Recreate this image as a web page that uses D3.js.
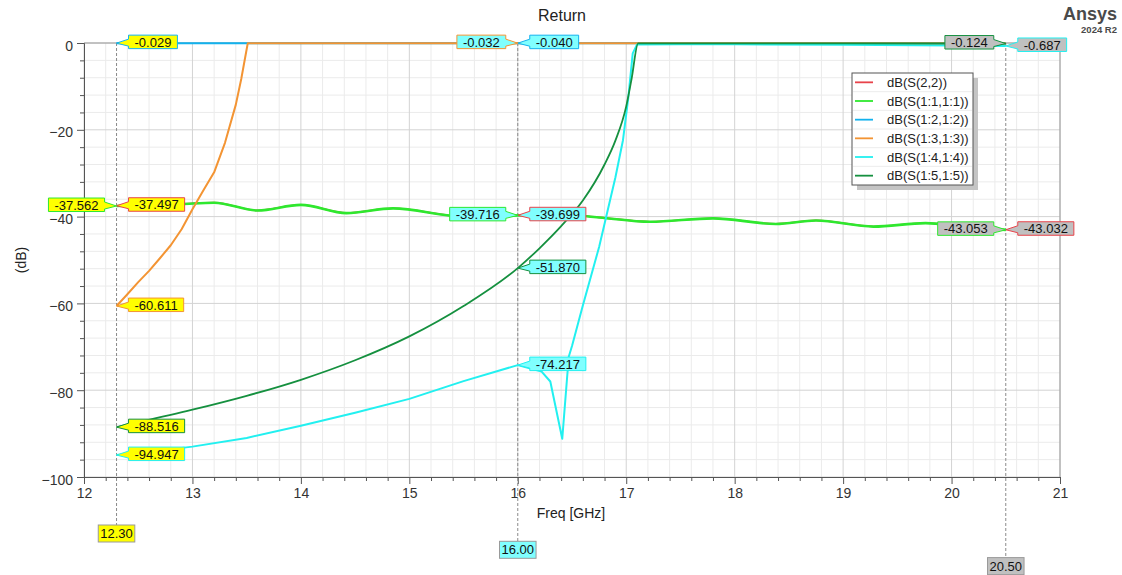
<!DOCTYPE html>
<html lang="en">
<head>
  <meta charset="UTF-8">
  <title>Return</title>
  <script src="https://d3js.org/d3.v7.min.js"></script>
  <style>
    body {
      margin: 0;
      background: #ffffff;
      font-family: Arial, "Liberation Sans", sans-serif;
    }

    svg {
      display: block;
    }

    .grid .minor {
      stroke: #ebebeb;
      stroke-width: 1px;
    }

    .grid .major {
      stroke: #d3d3d3;
      stroke-width: 1px;
    }

    .axis path,
    .axis line {
      stroke: #555555;
    }

    .axis text {
      font-size: 14px;
      fill: #333333;
      font-family: Arial, "Liberation Sans", sans-serif;
    }

    .trace {
      fill: none;
      stroke-linejoin: round;
    }

    .callout text,
    .xmark text {
      font-size: 13px;
      fill: #111111;
    }

    .legend text {
      font-size: 13px;
      fill: #222222;
    }
  </style>
</head>

<body>
  <div id="chart"></div>
  <script>
    // legend order = draw order
    const seriesNames = ["dB(S(2,2))", "dB(S(1:1,1:1))", "dB(S(1:2,1:2))",
                         "dB(S(1:3,1:3))", "dB(S(1:4,1:4))", "dB(S(1:5,1:5))"];

    // ripple traces (S(2,2) sits right under S(1:1,1:1))
    const freqRipple = [12.3, 12.6, 12.9, 13.2, 13.6, 14.0, 14.42, 14.85, 15.5, 16.0,
                        16.4, 16.75, 17.22, 17.8, 18.38, 18.75, 19.28, 19.76, 20.1, 20.5];
    const s22 = [-37.497, -37.32, -37.06, -36.77, -38.57, -37.27, -39.17, -38.07, -39.97, -39.699,
                 -39.47, -40.17, -41.17, -40.37, -41.67, -40.87, -42.27, -41.47, -42.27, -43.032];
    const s11 = [-37.562, -37.35, -37.1, -36.8, -38.6, -37.3, -39.2, -38.1, -40.0, -39.716,
                 -39.5, -40.2, -41.2, -40.4, -41.7, -40.9, -42.3, -41.5, -42.3, -43.053];

    const freqS12 = [12.3, 13, 14, 15, 16, 17, 18, 19, 20, 20.5];
    const s12 = [-0.029, -0.03, -0.032, -0.035, -0.040, -0.042, -0.045, -0.05, -0.05, -0.05];

    const freqS13 = [12.3, 12.4, 12.5, 12.6, 12.7, 12.8, 12.9, 13.0, 13.1, 13.2, 13.3, 13.4,
                     13.45, 13.51, 14, 15, 16, 17, 18, 19, 20, 20.5];
    const s13 = [-60.611, -57.9, -55.1, -52.5, -49.6, -46.6, -42.9, -38.3, -34.0, -29.8, -23.0, -14.2,
                 -8.3, -0.05, -0.03, -0.03, -0.032, -0.03, -0.03, -0.03, -0.03, -0.03];

    const freqS14 = [12.3, 12.5, 13.0, 13.5, 14.0, 14.5, 15.0, 15.5, 16.0, 16.22, 16.3, 16.41,
                     16.47, 16.5, 16.6, 16.75, 16.9, 16.97, 17.02, 17.06, 17.1, 17.5, 18, 19, 20, 20.5];
    const s14 = [-94.947, -94.5, -93.0, -91.0, -88.2, -85.2, -82.0, -77.9, -74.217, -75.7, -78.0, -91.2,
                 -72.3, -69.8, -60.5, -47.0, -31.0, -22.4, -12.4, -2.4, -0.35, -0.3, -0.3, -0.4, -0.55, -0.687];

    const freqS15 = [12.3, 12.5, 13.0, 13.5, 14.0, 14.5, 15.0, 15.5, 16.0, 16.2, 16.4, 16.6,
                     16.8, 16.9, 17.0, 17.05, 17.11, 17.5, 18, 19, 20, 20.5];
    const s15 = [-88.516, -87.4, -84.5, -81.3, -77.6, -73.1, -67.6, -60.6, -51.870, -47.3, -42.2, -36.3,
                 -28.0, -22.5, -14.6, -8.2, -0.1, -0.08, -0.08, -0.09, -0.11, -0.124];

    // markers
    const markerFreqs = [12.3, 16.0, 20.5];
    const markerNames = ["12.30", "16.00", "20.50"];
    // readings per marker, in series order (null = no label)
    const markerReadings = [
      [-37.497, -37.562, -0.029, -60.611, -94.947, -88.516],
      [-39.699, -39.716, -0.040, -0.032, -74.217, -51.870],
      [-43.032, -43.053, null, null, -0.687, -0.124]
    ];

    const yTicks = [0, -20, -40, -60, -80, -100];

    // ---------- layout / style ----------
    const width = 1122, height = 575;
    const plotL = 84, plotR = 1060, plotT = 43, plotB = 477;

    const colors = ["#e8434a", "#2ee82e", "#12b2ee", "#f39433", "#22f0f0", "#15903f"];
    const widths = [1.6, 2.6, 2, 2, 2, 1.8];
    const curves = [d3.curveMonotoneX, d3.curveMonotoneX, d3.curveLinear,
                    d3.curveLinear, d3.curveLinear, d3.curveMonotoneX];
    const markerFill = ["#ffff00", "#80ffff", "#c0c0c0"];
    // which readings sit on the left of the marker line
    const leftSide = [[1], [1, 3], [1, 5]];

    const traces = [
      [freqRipple, s22], [freqRipple, s11], [freqS12, s12],
      [freqS13, s13], [freqS14, s14], [freqS15, s15]
    ];

    const svg = d3.select("#chart")
      .append("svg")
      .attr("width", width)
      .attr("height", height);

    const x = d3.scaleLinear().domain([12, 21]).range([plotL, plotR]);
    const y = d3.scaleLinear().domain([-100, 0]).range([plotB, plotT]);

    const xMajor = x.ticks(9);
    const xMinor = d3.range(0, 46).map(i => 12 + i * 0.2).filter(v => Math.abs(v - Math.round(v)) > 1e-6);
    const yMinor = d3.range(-100, 1, 4).filter(v => v % 20 !== 0);

    // grid
    const grid = svg.append("g").attr("class", "grid");
    grid.selectAll("line.xmin").data(xMinor).enter().append("line")
      .attr("class", "minor")
      .attr("x1", d => x(d)).attr("x2", d => x(d))
      .attr("y1", plotT).attr("y2", plotB);
    grid.selectAll("line.ymin").data(yMinor).enter().append("line")
      .attr("class", "minor")
      .attr("x1", plotL).attr("x2", plotR)
      .attr("y1", d => y(d)).attr("y2", d => y(d));
    grid.selectAll("line.xmaj").data(xMajor).enter().append("line")
      .attr("class", "major")
      .attr("x1", d => x(d)).attr("x2", d => x(d))
      .attr("y1", plotT).attr("y2", plotB);
    grid.selectAll("line.ymaj").data(yTicks).enter().append("line")
      .attr("class", "major")
      .attr("x1", plotL).attr("x2", plotR)
      .attr("y1", d => y(d)).attr("y2", d => y(d));

    // frame top / right
    svg.append("path")
      .attr("d", `M${plotL},${plotT}H${plotR}V${plotB}`)
      .attr("fill", "none")
      .attr("stroke", "#9a9a9a");

    // axes
    svg.append("g").attr("class", "axis")
      .attr("transform", `translate(0,${plotB})`)
      .call(d3.axisBottom(x).tickValues(xMinor).tickSize(4).tickSizeOuter(0).tickFormat(""));
    svg.append("g").attr("class", "axis")
      .attr("transform", `translate(0,${plotB})`)
      .call(d3.axisBottom(x).tickValues(xMajor).tickSize(7).tickSizeOuter(0).tickPadding(4).tickFormat(d3.format("d")));
    svg.append("g").attr("class", "axis")
      .attr("transform", `translate(${plotL},0)`)
      .call(d3.axisLeft(y).tickValues(yMinor).tickSize(4).tickSizeOuter(0).tickFormat(""));
    svg.append("g").attr("class", "axis")
      .attr("transform", `translate(${plotL},0)`)
      .call(d3.axisLeft(y).tickValues(yTicks).tickSize(7).tickSizeOuter(0).tickPadding(4).tickFormat(d3.format("d")))
      .selectAll("text").attr("dy", "0.5em");

    // titles
    svg.append("text")
      .attr("x", 562).attr("y", 21)
      .attr("text-anchor", "middle")
      .style("font-size", "16px").style("fill", "#222")
      .text("Return");
    svg.append("text")
      .attr("x", 571).attr("y", 518)
      .attr("text-anchor", "middle")
      .style("font-size", "14px").style("fill", "#222")
      .text("Freq [GHz]");
    svg.append("text")
      .attr("transform", `translate(26,${(plotT + plotB) / 2}) rotate(-90)`)
      .attr("text-anchor", "middle")
      .style("font-size", "14px").style("fill", "#222")
      .text("(dB)");

    // logo
    svg.append("text")
      .attr("x", 1117).attr("y", 20)
      .attr("text-anchor", "end")
      .style("font-size", "18px").style("font-weight", "bold").style("fill", "#4a4a4a")
      .text("Ansys");
    svg.append("text")
      .attr("x", 1117).attr("y", 33)
      .attr("text-anchor", "end")
      .style("font-size", "9.5px").style("font-weight", "bold").style("fill", "#4a4a4a")
      .text("2024 R2");

    // marker lines + bottom labels
    const xmarks = svg.append("g").attr("class", "xmark");
    markerFreqs.forEach((f, i) => {
      const boxTop = 525 + i * 16.3;
      xmarks.append("line")
        .attr("x1", x(f)).attr("x2", x(f))
        .attr("y1", plotT).attr("y2", boxTop)
        .attr("stroke", "#8a8a8a")
        .attr("stroke-dasharray", "3,2");
      const t = xmarks.append("text")
        .attr("x", x(f)).attr("y", boxTop + 13)
        .attr("text-anchor", "middle")
        .text(markerNames[i]);
      const w = t.node().getComputedTextLength() + 4;
      xmarks.insert("rect", "text")
        .attr("x", x(f) - w / 2).attr("y", boxTop)
        .attr("width", w).attr("height", 17)
        .attr("fill", markerFill[i])
        .attr("stroke", "#9a9a9a");
    });

    // traces
    const line = d3.line()
      .x(d => x(d[0]))
      .y(d => y(d[1]));

    traces.forEach((tr, i) => {
      const pts = tr[0].map((f, k) => [f, tr[1][k]]);
      svg.append("path")
        .attr("class", "trace")
        .attr("d", line.curve(curves[i])(pts))
        .attr("stroke", colors[i])
        .attr("stroke-width", widths[i]);
    });

    // marker callouts
    const callouts = svg.append("g").attr("class", "callout");
    markerReadings.forEach((vals, mi) => {
      vals.forEach((v, si) => {
        if (v === null) return;
        const px = x(markerFreqs[mi]), py = y(v);
        const side = leftSide[mi].includes(si) ? -1 : 1;
        const g = callouts.append("g");
        const shape = g.append("path");
        const t = g.append("text")
          .attr("text-anchor", "middle")
          .attr("y", py + 3.6)
          .text(v.toFixed(3));
        const w = t.node().getComputedTextLength() + 12, h = 13.5, gap = 12;
        const bx = side > 0 ? px + gap : px - gap - w;
        const by = py - 8;
        t.attr("x", bx + w / 2);
        const e = side > 0 ? bx : bx + w, o = side > 0 ? bx + w : bx;
        shape
          .attr("d", `M${px},${py}L${e},${py - 4}L${e},${by}L${o},${by}L${o},${by + h}L${e},${by + h}L${e},${py + 3}Z`)
          .attr("fill", markerFill[mi])
          .attr("stroke", colors[si])
          .attr("stroke-width", 1);
      });
    });

    // legend
    const lg = svg.append("g").attr("class", "legend").attr("transform", "translate(852,73)");
    const lgW = 121, lgH = 112, rowH = lgH / seriesNames.length;
    lg.append("rect")
      .attr("x", 5).attr("y", 5)
      .attr("width", lgW).attr("height", lgH)
      .attr("fill", "#c4c4c4");
    lg.append("rect")
      .attr("width", lgW).attr("height", lgH)
      .attr("fill", "#ffffff")
      .attr("stroke", "#555555");
    const rows = lg.selectAll("g.row")
      .data(seriesNames)
      .enter().append("g")
      .attr("transform", (d, i) => `translate(0,${rowH * (i + 0.5)})`);
    rows.filter((d, i) => i > 0).append("line")
      .attr("x1", 1).attr("x2", lgW - 1)
      .attr("y1", -rowH / 2).attr("y2", -rowH / 2)
      .attr("stroke", "#ececec");
    rows.append("line")
      .attr("x1", 3).attr("x2", 21)
      .attr("stroke", (d, i) => colors[i])
      .attr("stroke-width", 1.8);
    rows.append("text")
      .attr("x", 35).attr("y", 4.6)
      .text(d => d);
  </script>
</body>
</html>
